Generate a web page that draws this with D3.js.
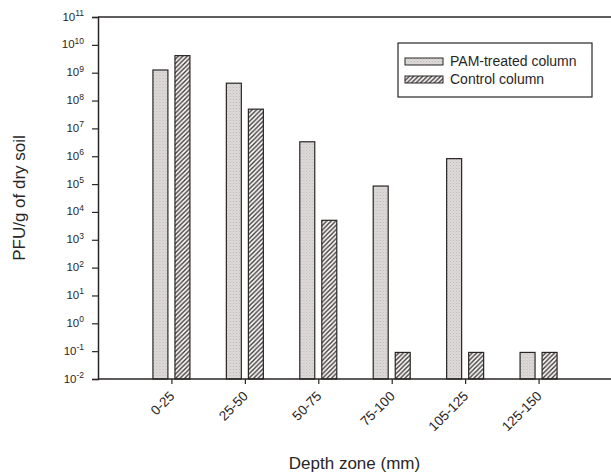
<!DOCTYPE html>
<html>
<head>
<meta charset="utf-8">
<script src="https://cdn.jsdelivr.net/npm/d3@7"></script>
<style>
  body { margin: 0; background: #fff; }
  svg { display: block; font-family: "Liberation Sans", Arial, sans-serif; }
</style>
</head>
<body>
<svg id="chart" width="611" height="473"></svg>
<script>
// Depth zones and PFU counts
const depthZones = ["0-25", "25-50", "50-75", "75-100", "105-125", "125-150"];
const pamValues = [1.25e9, 4.2e8, 3.3e6, 8.5e4, 8.2e5, 0.09];
const controlValues = [4.1e9, 4.9e7, 5e3, 0.09, 0.09, 0.09];
const seriesNames = ["PAM-treated column", "Control column"];
const yTickExps = d3.range(-2, 12);

const svg = d3.select("#chart");
const ink = "#2a2626";

const plotLeft = 98, plotRight = 612, plotTop = 17, plotBottom = 379;

// Patterns: stippled gray and diagonal hatch
const defs = svg.append("defs");
const stip = defs.append("pattern")
    .attr("id", "stipple")
    .attr("patternUnits", "userSpaceOnUse")
    .attr("width", 3).attr("height", 3);
stip.append("rect").attr("width", 3).attr("height", 3).attr("fill", "#dedada");
stip.append("rect").attr("x", 0).attr("y", 0).attr("width", 1).attr("height", 1).attr("fill", "#bdb8b8");
stip.append("rect").attr("x", 1.5).attr("y", 1.5).attr("width", 1).attr("height", 1).attr("fill", "#cbc6c6");

const hatch = defs.append("pattern")
    .attr("id", "hatch")
    .attr("patternUnits", "userSpaceOnUse")
    .attr("width", 4.5).attr("height", 4.5);
hatch.append("rect").attr("width", 4.5).attr("height", 4.5).attr("fill", "#f7f5f5");
hatch.append("path")
    .attr("d", "M-1,1 l2,-2 M0,4.5 l4.5,-4.5 M3.5,5.5 l2,-2")
    .attr("stroke", "#3a3535")
    .attr("stroke-width", 1.3);

// Scales
const x = d3.scalePoint().domain(depthZones).range([plotLeft, plotRight]).padding(1);
const xInner = d3.scaleBand().domain(seriesNames).range([-18.5, 18.5]).paddingInner(0.32);
const y = d3.scaleLog().domain([1e-2, 1e11]).range([plotBottom, plotTop]);

const rows = depthZones.map((z, i) => ({ zone: z, values: [pamValues[i], controlValues[i]] }));

// Bars
const groups = svg.append("g").selectAll("g")
    .data(rows)
    .enter().append("g")
    .attr("transform", d => `translate(${x(d.zone)},0)`);

groups.selectAll("rect")
    .data(d => d.values.map((v, j) => ({ name: seriesNames[j], value: v, j })))
    .enter().append("rect")
    .attr("x", d => xInner(d.name))
    .attr("width", xInner.bandwidth())
    .attr("y", d => y(d.value))
    .attr("height", d => plotBottom - y(d.value))
    .attr("fill", d => d.j === 0 ? "url(#stipple)" : "url(#hatch)")
    .attr("stroke", ink)
    .attr("stroke-width", 1.2);

// Top frame line
svg.append("line")
    .attr("x1", plotLeft).attr("x2", 611)
    .attr("y1", plotTop).attr("y2", plotTop)
    .attr("stroke", ink).attr("stroke-width", 1.5);

// Y axis
const yAxis = svg.append("g")
    .attr("transform", `translate(${plotLeft},0)`)
    .call(d3.axisLeft(y).tickValues(yTickExps.map(e => Math.pow(10, e))).tickSize(6).tickFormat(""));
yAxis.select(".domain").attr("stroke", ink).attr("stroke-width", 1.5);
yAxis.selectAll(".tick line").attr("stroke", ink).attr("stroke-width", 1.2);

const yLabels = svg.append("g").selectAll("text")
    .data(yTickExps)
    .enter().append("text")
    .attr("x", plotLeft - 14)
    .attr("y", e => y(Math.pow(10, e)) + 3.5)
    .attr("text-anchor", "end")
    .attr("font-size", 11.5)
    .attr("fill", ink);
yLabels.append("tspan").text("10");
yLabels.append("tspan")
    .attr("dy", -4.5)
    .attr("font-size", 8.5)
    .text(e => e);

// X axis
const xAxis = svg.append("g")
    .attr("transform", `translate(0,${plotBottom})`)
    .call(d3.axisBottom(x).tickSize(5).tickFormat(""));
xAxis.select(".domain").attr("d", `M${plotLeft},0H611`).attr("stroke", ink).attr("stroke-width", 1.5);
xAxis.selectAll(".tick line").attr("stroke", ink).attr("stroke-width", 1.2);

svg.append("g").selectAll("text")
    .data(depthZones)
    .enter().append("text")
    .attr("transform", d => `translate(${x(d) + 4},397) rotate(-45)`)
    .attr("text-anchor", "end")
    .attr("font-size", 13.5)
    .attr("fill", ink)
    .text(d => d);

// Axis titles
svg.append("text")
    .attr("x", (plotLeft + 611) / 2)
    .attr("y", 469)
    .attr("text-anchor", "middle")
    .attr("font-size", 17)
    .attr("fill", ink)
    .text("Depth zone (mm)");

svg.append("text")
    .attr("transform", `translate(25,${(plotTop + plotBottom) / 2}) rotate(-90)`)
    .attr("text-anchor", "middle")
    .attr("font-size", 17)
    .attr("fill", ink)
    .text("PFU/g of dry soil");

// Legend
const legend = svg.append("g").attr("transform", "translate(398,43)");
legend.append("rect")
    .attr("width", 194).attr("height", 54)
    .attr("fill", "#fff")
    .attr("stroke", ink).attr("stroke-width", 1.2);
const items = legend.selectAll("g.item")
    .data(seriesNames)
    .enter().append("g")
    .attr("class", "item")
    .attr("transform", (d, i) => `translate(7,${15 + i * 18})`);
items.append("rect")
    .attr("width", 38).attr("height", 7)
    .attr("fill", (d, i) => i === 0 ? "url(#stipple)" : "url(#hatch)")
    .attr("stroke", ink).attr("stroke-width", 1);
items.append("text")
    .attr("x", 45).attr("y", 8)
    .attr("font-size", 14)
    .attr("fill", ink)
    .text(d => d);
</script>
</body>
</html>
